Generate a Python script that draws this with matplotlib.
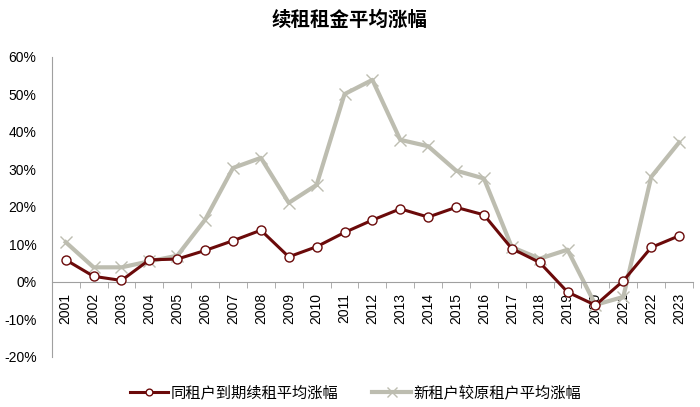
import matplotlib
matplotlib.use("Agg")
import matplotlib.pyplot as plt
import numpy as np

years = [str(y) for y in range(2001, 2024)]
renew = [5.9, 1.5, 0.4, 5.9, 6.1, 8.4, 11.0, 13.8, 6.7, 9.4, 13.2, 16.5, 19.5, 17.3,
         19.9, 17.9, 8.9, 5.2, -2.7, -6.2, 0.3, 9.2, 12.3]
new_t = [10.6, 3.9, 3.9, 5.5, 7.0, 16.6, 30.4, 33.1, 21.1, 25.9, 50.1, 53.9, 37.9, 36.2,
         29.7, 27.6, 9.3, 6.2, 8.6, -6.1, -4.0, 28.0, 37.2]
yticks = [-20, -10, 0, 10, 20, 30, 40, 50, 60]
title = "续租租金平均涨幅"
labels = ["同租户到期续租平均涨幅", "新租户较原租户平均涨幅"]

cjk = ["Noto Sans CJK SC", "DejaVu Sans"]
lat = ["Liberation Sans", "DejaVu Sans"]

fig = plt.figure(figsize=(7, 4.07), dpi=100)
ax = fig.add_axes([0.074, 0.123, 0.916, 0.737])
x = np.arange(len(years))

ax.plot(x, new_t, color="#BDBDB0", lw=3.0, marker="x", ms=9, mew=1.0,
        mec="#BDBDB0", label=labels[1], zorder=2)
ax.plot(x, renew, color="#6B0A0A", lw=2.2, marker="o", ms=6.5, mfc="white",
        mec="#6B0A0A", mew=1.0, label=labels[0], zorder=3)

ax.set_xlim(-0.5, len(years) - 0.5)
ax.set_ylim(-20, 60)
ax.set_yticks(yticks)
ax.set_yticklabels([f"{v}%" for v in yticks], fontsize=10, family=lat)
ax.tick_params(axis="y", length=0, pad=11)

ax.spines["bottom"].set_position(("data", 0))
for s in ["top", "right"]:
    ax.spines[s].set_visible(False)
ax.spines["left"].set_color("#A0A0A0")
ax.spines["bottom"].set_color("#A0A0A0")
ax.set_xticks(x)
ax.set_xticklabels(years, rotation=90, fontsize=10, family=lat)
ax.tick_params(axis="x", which="major", length=0, pad=8)
ax.set_xticks(np.arange(-0.5, len(years), 1), minor=True)
ax.tick_params(axis="x", which="minor", length=4, color="#A0A0A0", direction="out")

fig.text(0.5, 0.951, title, ha="center", va="center", fontsize=14,
         fontweight="bold", family=cjk)

h, l = ax.get_legend_handles_labels()
leg = fig.legend(h[::-1], l[::-1], loc="center", bbox_to_anchor=(0.508, 0.035),
                 ncol=2, frameon=False, prop={"family": cjk, "size": 11},
                 handlelength=2.5, columnspacing=2.2, handletextpad=0.2,
                 markerscale=0.75)

fig.savefig("out.png", dpi=100)
